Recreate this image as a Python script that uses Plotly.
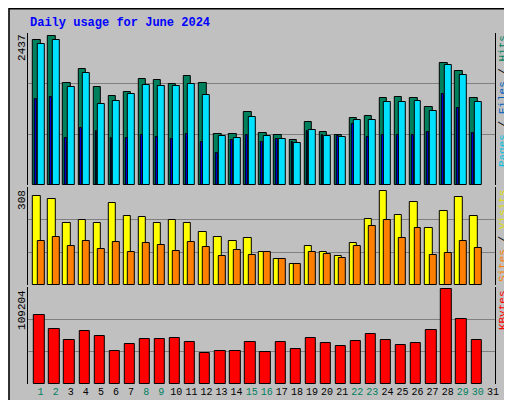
import plotly.graph_objects as go

days = list(range(1, 31))
hits = [2366, 2437, 1670, 1902, 1603, 1454, 1520, 1741, 1719, 1653, 1786, 1670, 841, 841, 1189,
        857, 824, 741, 1023, 874, 824, 1089, 1122, 1421, 1437, 1421, 1272, 2001, 1869, 1421]
files = [2300, 2366, 1603, 1835, 1321, 1371, 1487, 1636, 1620, 1620, 1653, 1471, 807, 774, 1106,
         807, 758, 691, 907, 807, 791, 1056, 1056, 1355, 1355, 1371, 1205, 1968, 1802, 1355]
pages = [1409, 1437, 774, 940, 890, 774, 774, 824, 791, 758, 841, 708, 526, 741, 824,
         708, 758, 708, 890, 824, 807, 1006, 791, 824, 824, 824, 874, 1487, 1255, 857]
visits = [291, 281, 201, 211, 204, 268, 224, 221, 204, 211, 204, 174, 157, 144, 154,
          107, 84, 67, 127, 107, 94, 137, 214, 308, 228, 271, 187, 241, 288, 224]
sites = [144, 157, 127, 144, 117, 141, 107, 137, 131, 110, 141, 124, 94, 114, 97,
         107, 84, 70, 107, 100, 87, 127, 194, 211, 154, 187, 97, 104, 144, 121]
kbytes = [79200, 63600, 50400, 61200, 55200, 38400, 45600, 51600, 51600, 52800, 48000, 36000,
          38400, 38400, 48000, 37200, 48000, 40800, 52800, 46800, 43200, 49200, 57600, 50400,
          44400, 46800, 62400, 109204, 74400, 50400]
weekend = [1, 2, 8, 9, 15, 16, 22, 23, 29, 30]
tick_days = list(range(1, 32))

line = dict(color="black", width=1)
fig = go.Figure()


def add_bar(vals, yax, offset, width, color):
    fig.add_trace(go.Bar(x=days, y=vals, yaxis=yax, offset=offset, width=width,
                         marker=dict(color=color, line=line)))


add_bar(hits, "y", -0.35, 0.49, "#00805C")
add_bar(files, "y", -0.06, 0.46, "#00E0FF")
add_bar(pages, "y", -0.22, 0.12, "#0000FF")
add_bar(visits, "y2", -0.35, 0.49, "#FFFF00")
add_bar(sites, "y2", -0.06, 0.46, "#FF8000")
add_bar(kbytes, "y3", -0.28, 0.68, "#FF0000")

ranges = {"yaxis": 2487, "yaxis2": 320, "yaxis3": 111600}
domains = {"yaxis": [0.5575, 0.9375], "yaxis2": [0.3075, 0.5525], "yaxis3": [0.06, 0.3025]}
for name, r in ranges.items():
    fig.layout[name] = dict(domain=domains[name], range=[0, r], anchor="x",
                            tickvals=[r / 3, 2 * r / 3], showticklabels=False,
                            gridcolor="#808080", gridwidth=1, zeroline=False,
                            showline=True, linecolor="black", mirror=True, fixedrange=True)

ticktext = ["<span style='color:%s'>%d</span>" % ("#008060" if d in weekend else "black", d)
            for d in tick_days]
fig.update_layout(
    width=512, height=400, margin=dict(l=0, r=0, t=0, b=0),
    paper_bgcolor="#C0C0C0", plot_bgcolor="#C0C0C0", showlegend=False,
    barmode="overlay", bargap=0,
    font=dict(family="Liberation Mono", size=11, color="black"),
    xaxis=dict(domain=[0.039, 0.959], range=[0.3, 31.3], tickvals=[d + 0.15 for d in tick_days],
               ticktext=ticktext, showgrid=False, showline=False, ticks="", anchor="y3",
               tickangle=0, tickfont=dict(size=10), fixedrange=True),
)

mono = "Liberation Mono"
fig.add_annotation(x=0.039, y=1 - 15 / 400, xref="paper", yref="paper", xanchor="left",
                   yanchor="middle", showarrow=False, text="<b>Daily usage for June 2024</b>",
                   font=dict(family=mono, size=12, color="#0000FF"))
for ylab, top in [("2437", 25), ("308", 180), ("109204", 280)]:
    fig.add_annotation(x=14 / 512, y=1 - top / 400, xref="paper", yref="paper",
                       xanchor="center", yanchor="top", textangle=-90, showarrow=False,
                       text=ylab, font=dict(family=mono, size=11))
right = [
    ("<span style='color:#00C0E0'>Pages</span> / <span style='color:#0060C0'>Files</span>"
     " / <span style='color:#00805C'>Hits</span>", 25),
    ("<span style='color:#FF8000'>Sites</span> / <span style='color:#E0E000'>Visits</span>", 180),
    ("<span style='color:#FF0000'>KBytes</span>", 280),
]
for txt, top in right:
    fig.add_annotation(x=499 / 512, y=1 - top / 400, xref="paper", yref="paper",
                       xanchor="center", yanchor="top", textangle=-90, showarrow=False,
                       text=txt, font=dict(family=mono, size=11), captureevents=False)

# outer frame with shadow
fig.add_shape(type="rect", xref="paper", yref="paper", x0=1 - 8 / 512, y0=0.004, x1=0.996,
              y1=1 - 4 / 400, fillcolor="#808080", line=dict(width=0), layer="below")
fig.add_shape(type="rect", xref="paper", yref="paper", x0=4 / 512, y0=0.004, x1=0.996,
              y1=8 / 400, fillcolor="#808080", line=dict(width=0), layer="below")
fig.add_shape(type="rect", xref="paper", yref="paper", x0=0.002, y0=0.002, x1=0.998, y1=0.998,
              line=dict(color="black", width=1.5), layer="below")

fig.write_html("out.html")
